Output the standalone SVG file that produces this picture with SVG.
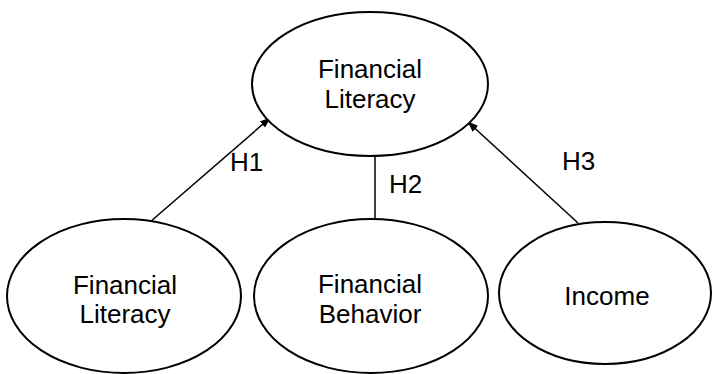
<svg xmlns="http://www.w3.org/2000/svg" width="712" height="374" viewBox="0 0 712 374">
<style>
.node ellipse{fill:#fff;stroke:#000;stroke-width:2}
.node text{font-family:"Liberation Sans",Arial,sans-serif;font-size:26px;fill:#000;text-anchor:middle}
.lbl{font-family:"Liberation Sans",Arial,sans-serif;font-size:26px;fill:#000}
.edge{stroke:#000;stroke-width:1.5;fill:none}
</style>
<defs>
<marker id="arr" markerWidth="11" markerHeight="10" refX="10" refY="5" orient="auto" markerUnits="userSpaceOnUse">
<path d="M0,1 L11,5 L0,9 Z" fill="#000"/>
</marker>
</defs>
<g id="connectors">
<line class="edge" x1="150" y1="222" x2="270" y2="118" marker-end="url(#arr)"/>
<line class="edge" x1="375" y1="156" x2="375" y2="219"/>
<line class="edge" x1="578" y1="223" x2="468" y2="122" marker-end="url(#arr)"/>
<text class="lbl" x="230" y="171">H1</text>
<text class="lbl" x="389" y="193">H2</text>
<text class="lbl" x="562" y="170">H3</text>
</g>
<g id="top" class="node">
<ellipse cx="370" cy="84" rx="118" ry="72"/>
<text x="370" y="78">Financial</text>
<text x="370" y="108">Literacy</text>
</g>
<g id="fl" class="node">
<ellipse cx="124" cy="296" rx="117" ry="77"/>
<text x="125" y="294">Financial</text>
<text x="125" y="323">Literacy</text>
</g>
<g id="fb" class="node">
<ellipse cx="371" cy="296" rx="117" ry="77"/>
<text x="370" y="293">Financial</text>
<text x="370" y="323">Behavior</text>
</g>
<g id="income" class="node">
<ellipse cx="605" cy="293" rx="106" ry="71"/>
<text x="607" y="305">Income</text>
</g>
</svg>
